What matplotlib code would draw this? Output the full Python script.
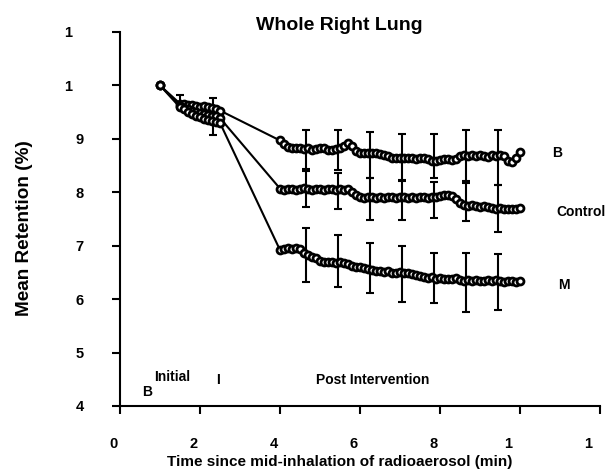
import numpy as np
import matplotlib
matplotlib.use("Agg")
import matplotlib.pyplot as plt
from matplotlib.transforms import ScaledTranslation

plt.rcParams['font.family'] = ['Liberation Sans', 'DejaVu Sans']
plt.rcParams['font.weight'] = 'bold'

# initial phase (min) and post intervention phase (min)
t_init = [1.0, 1.5, 1.6, 1.7, 1.8, 1.9, 2.0, 2.1, 2.2, 2.3, 2.4, 2.5]
t_post = np.round(np.arange(4.0, 10.01, 0.1), 1)

b_init = [100, 96.6, 96.5, 96.3, 96.4, 96.2, 96.0, 96.1, 95.9, 95.8, 95.6, 95.3]
control_init = [100, 96.2, 95.8, 95.5, 95.2, 95.0, 94.8, 94.7, 94.5, 94.3, 94.2, 93.9]
m_init = [100, 95.9, 95.5, 95.0, 94.7, 94.3, 94.0, 93.8, 93.6, 93.3, 93.2, 93.0]

b_post = [89.7, 89.0, 88.4, 88.3, 88.2, 88.3, 88.1, 88.2, 88.0, 88.1,
          88.3, 88.2, 88.0, 88.0, 88.1, 88.2, 88.6, 89.2, 88.6, 87.8,
          87.4, 87.3, 87.4, 87.3, 87.4, 87.2, 87.0, 86.7, 86.5, 86.4,
          86.5, 86.4, 86.4, 86.5, 86.3, 86.4, 86.5, 86.2, 85.9, 85.8,
          86.1, 86.3, 86.2, 86.0, 86.3, 86.7, 86.9, 86.8, 86.9, 86.7,
          86.9, 86.8, 86.6, 86.9, 86.7, 86.9, 86.8, 85.9, 85.7, 86.5,
          87.5]
control_post = [80.7, 80.5, 80.6, 80.7, 80.5, 80.6, 80.8, 80.6, 80.5, 80.6,
                80.7, 80.5, 80.6, 80.6, 80.5, 80.6, 80.5, 80.6, 80.0, 79.5,
                79.2, 79.0, 79.1, 79.2, 79.0, 79.1, 79.0, 79.2, 79.1, 79.0,
                79.1, 79.2, 79.0, 79.1, 79.0, 79.2, 79.1, 79.0, 79.1, 79.2,
                79.3, 79.5, 79.4, 79.3, 78.8, 78.0, 77.6, 77.5, 77.6, 77.4,
                77.3, 77.4, 77.2, 77.0, 76.9, 77.0, 76.9, 76.8, 76.9, 76.8,
                77.0]
m_post = [69.2, 69.4, 69.5, 69.4, 69.6, 69.3, 68.6, 68.3, 67.8, 67.7,
          67.2, 67.0, 66.9, 67.0, 66.8, 66.9, 66.8, 66.5, 66.2, 66.1,
          66.0, 65.9, 65.6, 65.5, 65.3, 65.2, 65.1, 65.2, 64.9, 64.9,
          65.0, 64.8, 64.9, 64.7, 64.5, 64.4, 64.1, 64.0, 64.1, 63.8,
          63.9, 63.8, 63.7, 63.8, 63.9, 63.6, 63.4, 63.5, 63.4, 63.5,
          63.4, 63.3, 63.5, 63.4, 63.6, 63.3, 63.2, 63.4, 63.3, 63.2,
          63.4]

# error bars
t_bars = [4.65, 5.45, 6.25, 7.05, 7.85, 8.65, 9.45]
b_bar_mean = [88.0, 87.9, 86.9, 86.6, 86.8, 86.9, 86.5]
b_bar_err = [3.6, 3.7, 4.3, 4.4, 4.2, 4.7, 5.1]
control_bar_mean = [80.6, 80.2, 78.8, 78.6, 78.5, 78.2, 77.0]
control_bar_err = [3.4, 3.4, 3.9, 3.7, 3.4, 3.5, 4.4]
m_bar_mean = [68.3, 67.1, 65.8, 64.7, 63.9, 63.1, 63.2]
m_bar_err = [5.1, 4.9, 4.7, 5.2, 4.7, 5.5, 5.3]

t_init_bars = [1.5, 2.33]
init_bar_mean = [97.3, 94.2]
init_bar_err = [0.9, 3.5]

x_ticks = [0, 2, 4, 6, 8, 10, 12]
x_labels = ['0', '2', '4', '6', '8', '1', '1']
y_ticks = [40, 50, 60, 70, 80, 90, 100, 110]
y_labels = ['4', '5', '6', '7', '8', '9', '1', '1']

fig = plt.figure(figsize=(6.05, 4.74), dpi=100)
ax = fig.add_axes([0.1983, 0.1435, 0.7934, 0.789])

for init, post in [(b_init, b_post), (control_init, control_post), (m_init, m_post)]:
    t = np.concatenate([t_init, t_post])
    v = np.concatenate([init, post])
    ax.plot(t, v, color='black', lw=1.5, marker='o', ms=5,
            mfc='white', mec='black', mew=2.0, zorder=3)

for mean, err in [(b_bar_mean, b_bar_err), (control_bar_mean, control_bar_err),
                  (m_bar_mean, m_bar_err)]:
    ax.errorbar(t_bars, mean, yerr=err, fmt='none', ecolor='black',
                elinewidth=1.5, capsize=3, capthick=1.5, zorder=2)
ax.errorbar(t_init_bars, init_bar_mean, yerr=init_bar_err, fmt='none',
            ecolor='black', elinewidth=1.5, capsize=3, capthick=1.5, zorder=2)

ax.set_xlim(0, 12)
ax.set_ylim(40, 110)
for s in ['top', 'right']:
    ax.spines[s].set_visible(False)
for s in ['left', 'bottom']:
    ax.spines[s].set_linewidth(1.5)

ax.set_xticks(x_ticks)
ax.set_xticklabels(x_labels)
ax.set_yticks(y_ticks)
ax.set_yticklabels(y_labels)
ax.tick_params(axis='both', direction='out', length=6, width=1.5,
               labelsize=10.5)
ax.tick_params(axis='x', pad=16)
ax.tick_params(axis='y', pad=20)
for lab in ax.get_xticklabels():
    dx = -12 if lab.get_text() == '1' else -6
    lab.set_transform(lab.get_transform() + ScaledTranslation(dx / 100, 0, fig.dpi_scale_trans))
for lab in ax.get_yticklabels():
    if lab.get_text() == '1':
        lab.set_transform(lab.get_transform() + ScaledTranslation(-12 / 100, 0, fig.dpi_scale_trans))

# annotations
fs = 10
ax.text(0.68, 42.6, 'B', fontsize=fs, fontweight='bold', ha='center', va='center')
ax.text(1.3, 45.4, 'Initial', fontsize=fs, fontweight='bold', ha='center', va='center')
ax.text(2.45, 44.9, 'I', fontsize=fs, fontweight='bold', ha='center', va='center')
ax.text(6.33, 44.9, 'Post Intervention', fontsize=fs, fontweight='bold',
        ha='center', va='center')
ax.text(10.8, 87.3, 'B', fontsize=fs, fontweight='bold', ha='left', va='center')
ax.text(10.92, 76.4, 'Control', fontsize=fs, fontweight='bold', ha='left', va='center')
ax.text(10.95, 62.6, 'M', fontsize=fs, fontweight='bold', ha='left', va='center')

fig.text(339 / 605, 1 - 25 / 474, 'Whole Right Lung', fontsize=14,
         fontweight='bold', ha='center', va='center')
fig.text(25 / 605, 1 - 228 / 474, 'Mean Retention (%)', fontsize=13.7,
         fontweight='bold', ha='center', va='center', rotation=90)
fig.text(340 / 605, 1 - 462 / 474, 'Time since mid-inhalation of radioaerosol (min)',
         fontsize=11, fontweight='bold', ha='center', va='center')

fig.savefig('out.png', dpi=100)
